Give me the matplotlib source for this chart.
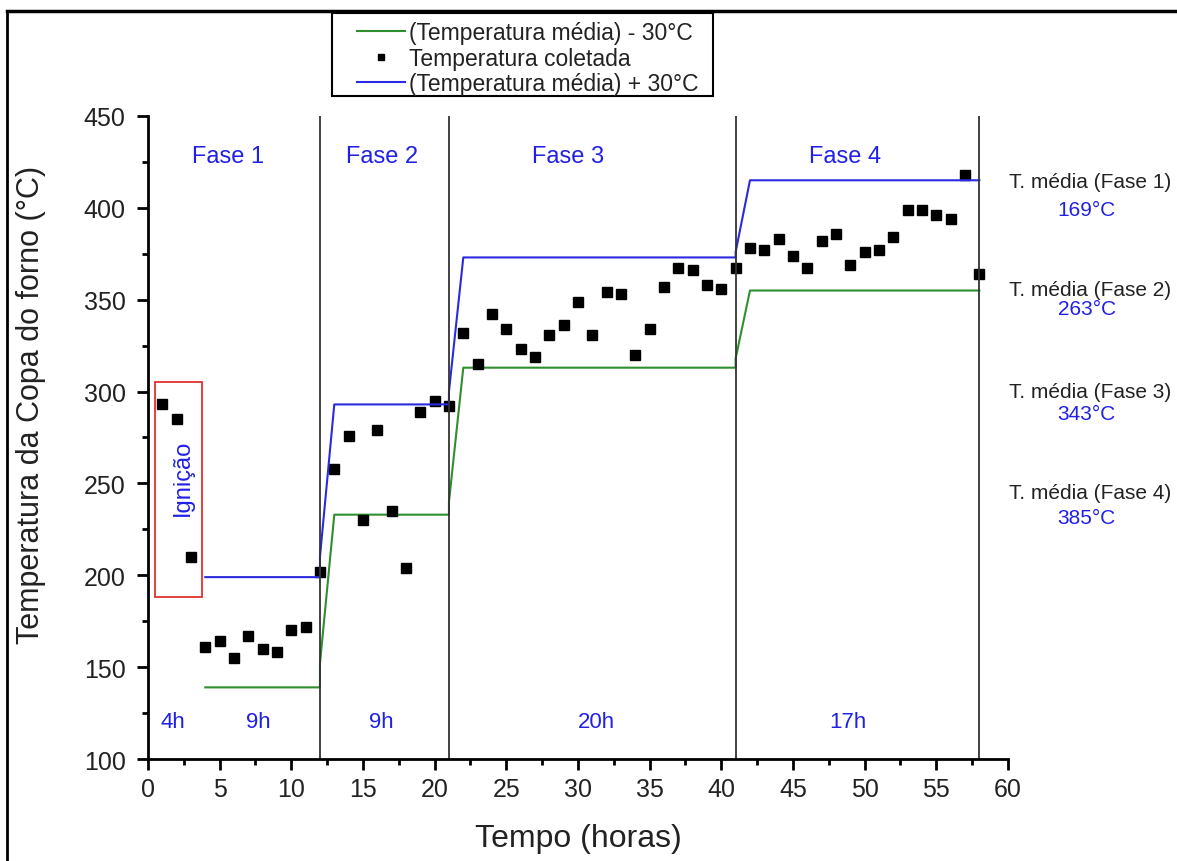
import numpy as np
import matplotlib
matplotlib.use("Agg")
import matplotlib.pyplot as plt
from matplotlib.lines import Line2D
from matplotlib.patches import Rectangle
from matplotlib.ticker import MultipleLocator

plt.rcParams['font.family'] = ['Liberation Sans', 'DejaVu Sans']

# collected temperature, one reading per hour
hours = np.arange(1, 59)
temp = [293, 285, 210, 161, 164, 155, 167, 160, 158, 170, 172, 202,
        258, 276, 230, 279, 235, 204, 289, 295, 292,
        332, 315, 342, 334, 323, 319, 331, 336, 349, 331, 354, 353, 320, 334,
        357, 367, 366, 358, 356, 367,
        378, 377, 383, 374, 367, 382, 386, 369, 376, 377, 384, 399, 399, 396,
        394, 418, 364]

# mean +/- 30 envelopes
band_x = [4, 12, 12, 13, 21, 21, 22, 41, 41, 42, 58]
upper = [199, 199, 210, 293, 293, 300, 373, 373, 376, 415, 415]
lower = [139, 139, 152, 233, 233, 240, 313, 313, 318, 355, 355]

phase_bounds = [12, 21, 41, 58]
phase_names = ['Fase 1', 'Fase 2', 'Fase 3', 'Fase 4']
phase_name_x = [5.6, 16.3, 29.3, 48.6]
duration_labels = ['4h', '9h', '9h', '20h', '17h']
duration_x = [1.75, 7.7, 16.3, 31.3, 48.8]
mean_labels = ['T. média (Fase 1)', 'T. média (Fase 2)', 'T. média (Fase 3)', 'T. média (Fase 4)']
mean_values = ['169°C', '263°C', '343°C', '385°C']
mean_label_y = [414.6, 355.8, 300.3, 245.3]
mean_value_y = [398.9, 345.0, 287.8, 231.2]

green = '#2e8f2e'
blue = '#2a2ae0'
txt_blue = '#2020e6'
dark = '#222222'

fig = plt.figure(figsize=(11.77, 8.62), dpi=100)
ax = fig.add_axes([0.1257, 0.1183, 0.7307, 0.746])

ax.plot(band_x, lower, color=green, lw=1.5, label='(Temperatura média) - 30°C')
ax.plot(hours, temp, 's', color='black', ms=6.5, label='Temperatura coletada')
ax.plot(band_x, upper, color=blue, lw=1.5, label='(Temperatura média) + 30°C')

for b in phase_bounds:
    ax.plot([b, b], [100, 450], color='#333333', lw=1.3)

for name, x in zip(phase_names, phase_name_x):
    ax.text(x, 428, name, color=txt_blue, fontsize=17, ha='center', va='center')
for lab, x in zip(duration_labels, duration_x):
    ax.text(x, 120.5, lab, color=txt_blue, fontsize=16, ha='center', va='center')

for lab, val, y1, y2 in zip(mean_labels, mean_values, mean_label_y, mean_value_y):
    ax.text(65.7, y1, lab, fontsize=15, color=dark, ha='center', va='center', clip_on=False)
    ax.text(65.5, y2, val, fontsize=15, color=txt_blue, ha='center', va='center', clip_on=False)

ax.add_patch(Rectangle((0.49, 188.2), 3.28, 117, fill=False, edgecolor='#e03030', lw=1.3))
ax.text(2.44, 253.5, 'Ignição', color=txt_blue, fontsize=17, rotation=90,
        ha='center', va='center')

ax.set_xlim(0, 60)
ax.set_ylim(100, 450)
ax.xaxis.set_major_locator(MultipleLocator(5))
ax.xaxis.set_minor_locator(MultipleLocator(2.5))
ax.yaxis.set_major_locator(MultipleLocator(50))
ax.yaxis.set_minor_locator(MultipleLocator(25))
ax.spines['top'].set_visible(False)
ax.spines['right'].set_visible(False)
for s in ['left', 'bottom']:
    ax.spines[s].set_linewidth(2)
ax.tick_params(which='major', direction='out', length=8, width=2, labelsize=18,
               labelcolor=dark)
ax.tick_params(which='minor', direction='out', length=4.5, width=2)
ax.tick_params(axis='y', which='major', pad=8)
ax.tick_params(axis='x', which='major', pad=5)
ax.set_xlabel('Tempo (horas)', fontsize=23, labelpad=16, color=dark)
ax.set_ylabel('Temperatura da Copa do forno (°C)', fontsize=22, color=dark)
ax.yaxis.set_label_coords(-0.119, 0.552)

# legend: frame drawn separately so the inner padding can be wider than tall
fig.add_artist(Rectangle((332 / 1177, 1 - 97 / 862), 381 / 1177, 83 / 862,
                         transform=fig.transFigure, fill=False,
                         edgecolor='black', lw=1.5))
leg = fig.legend(loc='upper left', bbox_to_anchor=(357 / 1177, 1 - 22 / 862),
                 borderaxespad=0, borderpad=0, fontsize=16.5, frameon=False,
                 handlelength=2.1, handletextpad=0.15, labelspacing=0.12,
                 markerscale=0.6)
for t in leg.get_texts():
    t.set_color(dark)

# page border
fig.add_artist(Line2D([0.006, 1.0], [0.986, 0.986], color='black', lw=2.5))
fig.add_artist(Line2D([0.006, 0.006], [0.0, 0.986], color='black', lw=2))

fig.savefig('out.png', dpi=100)
